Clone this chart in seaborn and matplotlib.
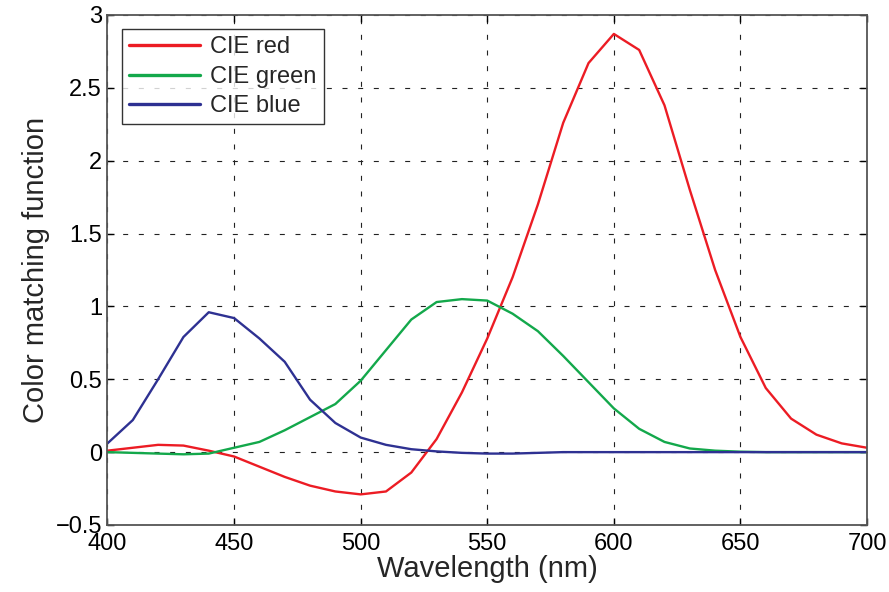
import numpy as np
import pandas as pd
import matplotlib
matplotlib.use("Agg")
import matplotlib.pyplot as plt
import seaborn as sns

wavelength = list(range(400, 701, 10))
cie_red = [0.01, 0.03, 0.05, 0.045, 0.01, -0.03, -0.10, -0.17, -0.23, -0.27, -0.29,
           -0.27, -0.14, 0.09, 0.41, 0.78, 1.20, 1.70, 2.26, 2.67, 2.87, 2.76, 2.38,
           1.80, 1.25, 0.79, 0.44, 0.23, 0.12, 0.06, 0.03]
cie_green = [0.0, -0.005, -0.01, -0.015, -0.01, 0.03, 0.07, 0.15, 0.24, 0.33, 0.49,
             0.70, 0.91, 1.03, 1.05, 1.04, 0.95, 0.83, 0.66, 0.48, 0.30, 0.16, 0.07,
             0.025, 0.01, 0.003, 0.0, 0.0, 0.0, 0.0, 0.0]
cie_blue = [0.06, 0.22, 0.50, 0.79, 0.96, 0.92, 0.78, 0.62, 0.36, 0.20, 0.10,
            0.05, 0.02, 0.005, -0.005, -0.01, -0.01, -0.005, 0.0, 0.0, 0.0, 0.0, 0.0,
            0.0, 0.0, 0.0, 0.0, 0.0, 0.0, 0.0, 0.0]
series_names = ["CIE red", "CIE green", "CIE blue"]
colors = ["#ec1c24", "#13a84b", "#2e3192"]
xticks = [400, 450, 500, 550, 600, 650, 700]
yticks = [-0.5, 0, 0.5, 1, 1.5, 2, 2.5, 3]
ytick_labels = ["\u22120.5", "0", "0.5", "1", "1.5", "2", "2.5", "3"]

df = pd.concat([
    pd.DataFrame({"Wavelength": wavelength, "value": vals, "series": name})
    for name, vals in zip(series_names, [cie_red, cie_green, cie_blue])
])

sns.set_style("white")
plt.rcParams["font.family"] = ["Liberation Sans", "DejaVu Sans"]

fig = plt.figure(figsize=(8.89, 5.92), dpi=100)
ax = fig.add_axes([0.1209, 0.1132, 0.8544, 0.8615])

sns.lineplot(data=df, x="Wavelength", y="value", hue="series",
             palette=dict(zip(series_names, colors)), hue_order=series_names,
             linewidth=1.7, ax=ax, estimator=None, sort=False)

ax.set_xlim(400, 700)
ax.set_ylim(-0.5, 3)
ax.set_xticks(xticks)
ax.set_xticklabels([str(t) for t in xticks])
ax.set_yticks(yticks)
ax.set_yticklabels(ytick_labels)
ax.grid(True, color="#222222", linestyle=(0, (4.5, 9.6)), linewidth=0.8)
ax.tick_params(direction="in", length=5, width=1, labelsize=17, colors="black",
               top=True, right=True, bottom=True, left=True)
ax.tick_params(axis="x", pad=6)
ax.tick_params(axis="y", pad=4)
for s in ax.spines.values():
    s.set_color("#555555")
    s.set_linewidth(1.3)
ax.set_xlabel("Wavelength (nm)", fontsize=21, labelpad=0)
ax.set_ylabel("Color matching function", fontsize=21, labelpad=4)

leg = ax.legend(loc="upper left", fontsize=17, frameon=True, fancybox=False,
                edgecolor="black", handlelength=3.0, borderpad=0.3,
                labelspacing=0.32, handletextpad=0.45, borderaxespad=0.6)
leg.get_frame().set_linewidth(1.0)
for line in leg.get_lines():
    line.set_linewidth(2.4)

fig.savefig("out.png", dpi=100)
